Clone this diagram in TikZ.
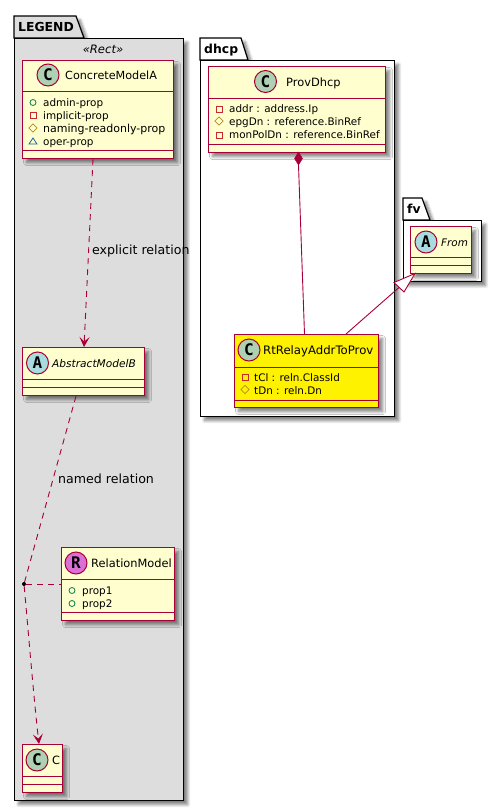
\documentclass[tikz,border=0pt]{standalone}
\usepackage{fontspec}
\setmainfont{DejaVu Sans}
\newfontfamily\circlefont{DejaVu Sans Mono}[BoldFont={DejaVu Sans Mono Bold}]
\usetikzlibrary{arrows.meta,shadows.blur,shapes.geometric}
\definecolor{umlborder}{HTML}{A80036}
\definecolor{umlfill}{HTML}{FEFECE}
\definecolor{legendgray}{HTML}{DDDDDD}
\definecolor{circC}{HTML}{ADD1B2}
\definecolor{circA}{HTML}{A9DCDF}
\definecolor{circR}{HTML}{DA70D6}
\definecolor{visgreen}{HTML}{038048}
\definecolor{visred}{HTML}{C82930}
\definecolor{visgold}{HTML}{B38D22}
\definecolor{visblue}{HTML}{1963A0}
\tikzset{
  softshadow/.style={blur shadow={shadow xshift=4pt,shadow yshift=-4pt,shadow blur radius=3pt,shadow blur steps=8,shadow opacity=50}},
  umlbox/.style={draw=umlborder,line width=1.15pt,fill=umlfill,anchor=north west,inner sep=0pt,softshadow},
  pkgbox/.style={draw=black,line width=1.2pt,anchor=north west,inner sep=0pt,softshadow},
  pkgtab/.style={draw=black,line width=1.2pt,softshadow},
  sepline/.style={draw=umlborder,line width=.9pt},
  conn/.style={draw=umlborder,line width=.9pt},
  dashconn/.style={conn,dash pattern=on 6pt off 5pt},
  barb/.style={-{Stealth[length=10pt,width=10pt,inset=4.5pt,fill=umlborder]}},
  circ/.style={circle,draw=umlborder,line width=1pt,minimum size=22pt,inner sep=0pt,font=\circlefont\bfseries\fontsize{16}{16}\selectfont},
  cname/.style={anchor=base west,inner sep=0pt,font=\fontsize{11.4}{12}\selectfont,text=black},
  attr/.style={anchor=base west,inner sep=0pt,font=\fontsize{10.4}{12}\selectfont,text=black},
  lbl/.style={anchor=base west,inner sep=0pt,font=\fontsize{12.6}{14}\selectfont,text=black},
  pkgname/.style={anchor=base west,inner sep=0pt,font=\bfseries\fontsize{12.4}{14}\selectfont,text=black},
  vispub/.style={circle,draw=visgreen,line width=.8pt,minimum size=6pt,inner sep=0pt},
  vispriv/.style={rectangle,draw=visred,line width=.8pt,minimum size=6pt,inner sep=0pt},
  visprot/.style={diamond,draw=visgold,line width=.8pt,minimum size=8.5pt,inner sep=0pt},
  dotnode/.style={circle,fill=black,minimum size=4pt,inner sep=0pt},
}
\begin{document}
\begin{tikzpicture}[x=1pt,y=-1pt]
\useasboundingbox (0,0) rectangle (501,811);
% LEGEND package
\draw[pkgtab,fill=legendgray] (14,38) -- (14,16) -- (76,16) -- (84,38) -- cycle;
\node[pkgbox,fill=legendgray,minimum width=169pt,minimum height=762pt] (legend) at (14,38) {};
\node[pkgname] (legendname) at (18,31) {LEGEND};
\node[anchor=base,inner sep=0pt,font=\itshape\fontsize{11.6}{12}\selectfont] (stereo) at (103,53.5) {«Rect»};
% dhcp package
\draw[pkgtab,fill=white] (200,60) -- (200,38) -- (241,38) -- (248,60) -- cycle;
\node[pkgbox,fill=white,minimum width=194pt,minimum height=356pt] (dhcp) at (200,60) {};
\node[pkgname] (dhcpname) at (204,53) {dhcp};
% fv package
\draw[pkgtab,fill=white] (403,220) -- (403,198) -- (422,198) -- (430,220) -- cycle;
\node[pkgbox,fill=white,minimum width=78pt,minimum height=61pt] (fv) at (403,220) {};
\node[pkgname] (fvname) at (407,213) {fv};
% ConcreteModelA
\node[umlbox,minimum width=151pt,minimum height=98pt] (concrete) at (22,60) {};
\draw[sepline] (22,91) -- (173,91) (22,150) -- (173,150);
\node[circ,fill=circC] (cc) at (48,75) {C};
\node[cname,font=\fontsize{11.2}{12}\selectfont] (cn) at (65,79.5) {ConcreteModelA};
\node[vispub] (i1) at (33,102.5) {};
\node[vispriv] (i2) at (33,115.5) {};
\node[visprot] (i3) at (33,128) {};
\draw[draw=visblue,line width=.8pt] (29,144) -- (33,138) -- (37,144) -- cycle;
\node[attr] (a1) at (43,106) {admin-prop};
\node[attr] (a2) at (43,119) {implicit-prop};
\node[attr,font=\fontsize{11}{12}\selectfont] (a3) at (43,132) {naming-readonly-prop};
\node[attr] (a4) at (43,145) {oper-prop};
% AbstractModelB
\node[umlbox,minimum width=122pt,minimum height=48pt] (abstract) at (22,347) {};
\draw[sepline] (22,379) -- (144,379) (22,387) -- (144,387);
\node[circ,fill=circA] (ca) at (37.5,363) {A};
\node[cname,font=\itshape\fontsize{10.6}{12}\selectfont] (an) at (52,367.5) {AbstractModelB};
% RelationModel
\node[umlbox,minimum width=113pt,minimum height=73pt] (relation) at (61,547) {};
\draw[sepline] (61,579) -- (174,579) (61,612) -- (174,612);
\node[circ,fill=circR] (cr) at (76,563) {R};
\node[cname] (rn) at (91,567.5) {RelationModel};
\node[vispub] (i5) at (72,590.5) {};
\node[vispub] (i6) at (72,603.5) {};
\node[attr] (a5) at (82,594) {prop1};
\node[attr] (a6) at (82,607) {prop2};
% C
\node[umlbox,minimum width=40pt,minimum height=48pt] (classc) at (22,744) {};
\draw[sepline] (22,776) -- (62,776) (22,784) -- (62,784);
\node[circ,fill=circC] (cc2) at (37,760) {C};
\node[cname] (ccn) at (52,764.5) {C};
% ProvDhcp
\node[umlbox,minimum width=177pt,minimum height=86pt] (prov) at (208,66) {};
\draw[sepline] (208,98) -- (385,98) (208,144) -- (385,144);
\node[circ,fill=circC] (cp) at (265.5,81.5) {C};
\node[cname] (pn) at (286,86) {ProvDhcp};
\node[vispriv] (i7) at (219,109) {};
\node[visprot] (i8) at (219,121) {};
\node[vispriv] (i9) at (219,135) {};
\node[attr] (a7) at (229,112) {addr : address.Ip};
\node[attr] (a8) at (229,125) {epgDn : reference.BinRef};
\node[attr] (a9) at (229,138) {monPolDn : reference.BinRef};
% RtRelayAddrToProv
\node[umlbox,fill=yellow,minimum width=144pt,minimum height=73pt] (relay) at (234,334) {};
\draw[sepline] (234,367) -- (378,367) (234,400) -- (378,400);
\node[circ,fill=circC] (cy) at (249,350) {C};
\node[cname,font=\fontsize{11.7}{12}\selectfont] (yn) at (263,354.5) {RtRelayAddrToProv};
\node[vispriv] (i10) at (245,377.5) {};
\node[visprot] (i11) at (245,389.5) {};
\node[attr] (a10) at (254,381) {tCl : reln.ClassId};
\node[attr] (a11) at (254,394) {tDn : reln.Dn};
% From
\node[umlbox,minimum width=61pt,minimum height=47pt] (from) at (410,226) {};
\draw[sepline] (410,257) -- (471,257) (410,265) -- (471,265);
\node[circ,fill=circA] (cf) at (426,242) {A};
\node[cname,font=\itshape\fontsize{10.4}{12}\selectfont] (fn) at (441,246.5) {From};
% connectors
\coordinate (diamondtip) at (298.5,165);
\node[dotnode] (dot) at (24,584) {};
\draw[dashconn,barb] ([xshift=71pt]concrete.south west) -- ([xshift=62pt]abstract.north west);
\draw[dashconn] ([xshift=54pt]abstract.south west) -- (dot);
\draw[dashconn] (dot) -- (relation.west |- dot);
\draw[dashconn,barb] (dot) .. controls (29,640) and (34,700) .. ([xshift=17pt]classc.north west);
\draw[conn] (diamondtip) -- ([xshift=70.5pt]relay.north west);
\draw[draw=umlborder,fill=umlborder] (298.5,152) -- (302.5,158.5) -- (298.5,165) -- (294.5,158.5) -- cycle;
\coordinate (triapex) at (415,273.5);
\coordinate (trimid) at (399,287.5);
\draw[conn] ([xshift=112pt]relay.north west) -- (trimid);
\draw[draw=umlborder,line width=.9pt,fill=white] (triapex) -- (394,282.5) -- (404,292) -- cycle;
% labels
\node[lbl] (explicit) at (92,254) {explicit relation};
\node[lbl] (named) at (58,483) {named relation};
\end{tikzpicture}
\end{document}
